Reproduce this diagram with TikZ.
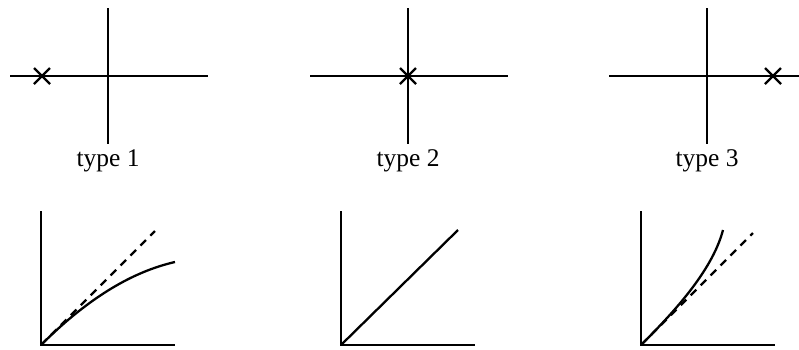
\documentclass[tikz,border=0pt]{standalone}
\usepackage{fontspec}
\setmainfont{Liberation Serif}
\usetikzlibrary{positioning}

\begin{document}
\begin{tikzpicture}[
  x=0.02cm, y=-0.02cm,
  axis/.style={line width=1.3pt},
  curve/.style={line width=1.3pt},
  asymp/.style={line width=1.3pt, dash pattern=on 4.5pt off 3.5pt},
  pole/.style={line width=1.3pt},
  caption/.style={anchor=base, font=\fontsize{14.5}{17}\selectfont}
]
  \useasboundingbox (0,0) rectangle (799,349);

  % root locus planes
  \foreach \cx/\px/\k in {108/42/1, 408/408/2, 707/773/3} {
    \draw[axis] (\cx-98,76) -- (\cx+100,76);
    \draw[axis] (\cx,8) -- (\cx,144);
    \draw[pole] (\px-8,68) -- (\px+8,84) (\px-8,84) -- (\px+8,68);
    \node[caption] (lab\k) at (\cx,166) {type \k};
  }

  % response curves
  \foreach \ox in {41,341,641} {
    \draw[axis] (\ox,211) -- (\ox,345) -- (\ox+134,345);
  }
  \draw[asymp] (41,345) -- (155,231);
  \draw[curve] (41,345) .. controls (95,291) and (140,270) .. (175,262);

  \draw[curve] (341,345) -- (458,230);

  \draw[asymp] (641,345) -- (753,233);
  \draw[curve] (641,345) .. controls (671,315) and (712,272) .. (723,230);
\end{tikzpicture}
\end{document}
